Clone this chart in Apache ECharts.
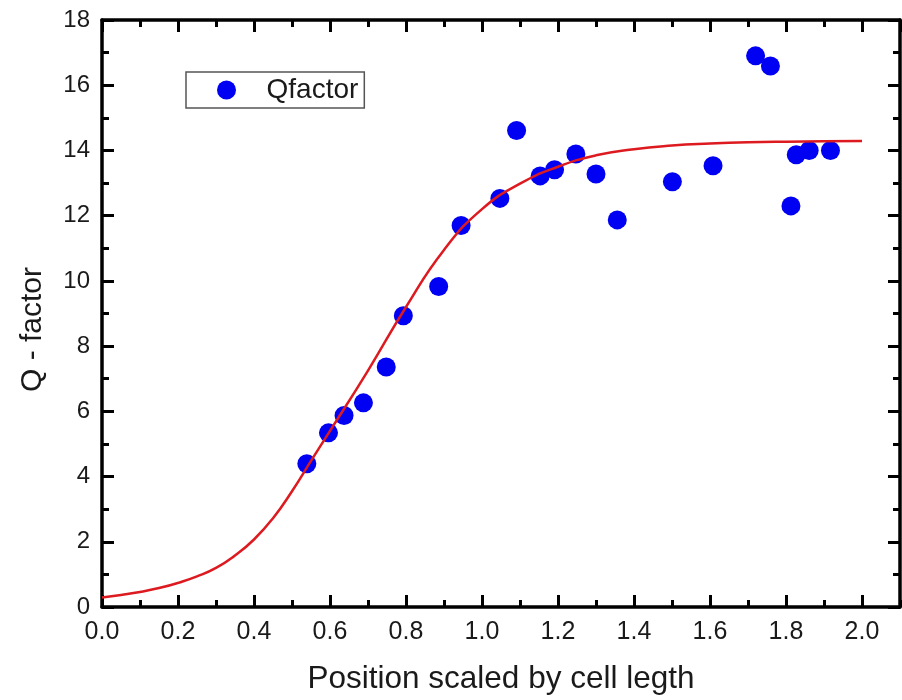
<!DOCTYPE html>
<html>
<head>
<meta charset="utf-8">
<script src="https://cdn.jsdelivr.net/npm/echarts@6/dist/echarts.min.js"></script>
<style>
  html, body { margin: 0; padding: 0; background: #fff; }
  #chart { width: 902px; height: 700px; }
</style>
</head>
<body>
<div id="chart"></div>
<script>
// Measured Q-factor against position (scaled by cell length)
const positions = [0.539, 0.596, 0.637, 0.688, 0.748, 0.793, 0.886, 0.945, 1.047, 1.091, 1.153, 1.191,
                   1.247, 1.300, 1.356, 1.501, 1.608, 1.720, 1.759, 1.813, 1.827, 1.861, 1.917];
const qValues  = [4.39, 5.34, 5.87, 6.26, 7.36, 8.93, 9.83, 11.70, 12.53, 14.61, 13.22, 13.41,
                  13.89, 13.28, 11.87, 13.04, 13.53, 16.90, 16.59, 12.30, 13.87, 14.00, 14.00];

// Sigmoidal fit curve sampled along the position axis (finer steps on the rising foot)
const fitX = [0.0, 0.05, 0.1, 0.15, 0.2, 0.25, 0.3, 0.35, 0.4, 0.45, 0.5, 0.55, 0.6,
              0.7, 0.8, 0.9, 1.0, 1.1, 1.2, 1.3, 1.4, 1.5, 1.6, 1.7, 1.8, 1.9, 2.0];
const fitY = [0.29, 0.37, 0.46, 0.58, 0.74, 0.94, 1.20, 1.58, 2.07, 2.72, 3.55, 4.48, 5.40,
              7.25, 9.20, 10.95, 12.20, 12.98, 13.50, 13.85, 14.04, 14.15, 14.21, 14.25, 14.27, 14.28, 14.29];

const seriesName = 'Qfactor';
const xName = 'Position scaled by cell legth';
const yName = 'Q - factor';

const FONT = 'Liberation Sans, Arial, sans-serif';
const INK = '#1a1a1a';
const LINE_W = 3.5;
const TICK_W = 3;

const scatterData = positions.map((x, i) => [x, qValues[i]]);
const fitData = fitX.map((x, i) => [x, fitY[i]]);

// Bottom/top axes: a major axis (0.2 steps) and a second one carrying the 0.1 minor ticks
function xAxisCfg(pos, major, withLabels) {
  return {
    type: 'value', position: pos, min: 0, max: 2.1,
    interval: major ? 0.2 : 0.1,
    axisLine: { show: major, onZero: false, lineStyle: { color: '#000', width: LINE_W } },
    axisTick: { show: true, inside: true, length: major ? 12 : 7,
                lineStyle: { color: '#000', width: TICK_W } },
    axisLabel: withLabels ? {
      show: true, margin: 13, fontSize: 25, color: INK, fontFamily: FONT,
      showMaxLabel: false,
      formatter: v => v.toFixed(1)
    } : { show: false },
    splitLine: { show: false },
    name: withLabels ? xName : '',
    nameLocation: 'middle', nameGap: 56,
    nameTextStyle: { fontSize: 31.5, color: INK, fontFamily: FONT }
  };
}

function yAxisCfg(pos, withLabels) {
  return {
    type: 'value', position: pos, min: 0, max: 18, interval: 2,
    axisLine: { show: true, onZero: false, lineStyle: { color: '#000', width: LINE_W } },
    axisTick: { show: true, inside: true, length: 12, lineStyle: { color: '#000', width: TICK_W } },
    minorTick: { show: true, splitNumber: 2, length: 7, lineStyle: { color: '#000', width: TICK_W } },
    axisLabel: withLabels ? { show: true, margin: 12, fontSize: 24, color: INK, fontFamily: FONT }
                          : { show: false },
    splitLine: { show: false },
    minorSplitLine: { show: false },
    name: withLabels ? yName : '',
    nameLocation: 'middle', nameGap: 54,
    // the title sits a little below the vertical centre of the plot
    nameTextStyle: { fontSize: 30, color: INK, fontFamily: FONT, padding: [0, 32, 0, 0] }
  };
}

const chart = echarts.init(document.getElementById('chart'), null, { renderer: 'canvas' });
chart.setOption({
  backgroundColor: '#fff',
  animation: false,
  grid: { left: 102, top: 20, width: 798, height: 588, containLabel: false },
  xAxis: [
    xAxisCfg('bottom', true, true),
    xAxisCfg('bottom', false, false),
    xAxisCfg('top', true, false),
    xAxisCfg('top', false, false)
  ],
  yAxis: [
    yAxisCfg('left', true),
    yAxisCfg('right', false)
  ],
  legend: {
    data: [{ name: seriesName, icon: 'circle' }],
    left: 186, top: 72,
    orient: 'vertical',
    itemWidth: 70, itemHeight: 19,
    padding: [4, 6, 4, 31],
    borderColor: '#555', borderWidth: 1.5,
    textStyle: { fontSize: 28, color: INK, fontFamily: FONT, lineHeight: 28 }
  },
  series: [
    {
      name: seriesName,
      type: 'scatter',
      data: scatterData,
      symbol: 'circle',
      symbolSize: 19,
      itemStyle: { color: '#0000f2', opacity: 1 },
      z: 2
    },
    {
      name: 'fit',
      type: 'line',
      data: fitData,
      smooth: 0.5,
      showSymbol: false,
      symbol: 'none',
      lineStyle: { color: '#dd1a1f', width: 2.5 },
      z: 3
    }
  ]
});
</script>
</body>
</html>
